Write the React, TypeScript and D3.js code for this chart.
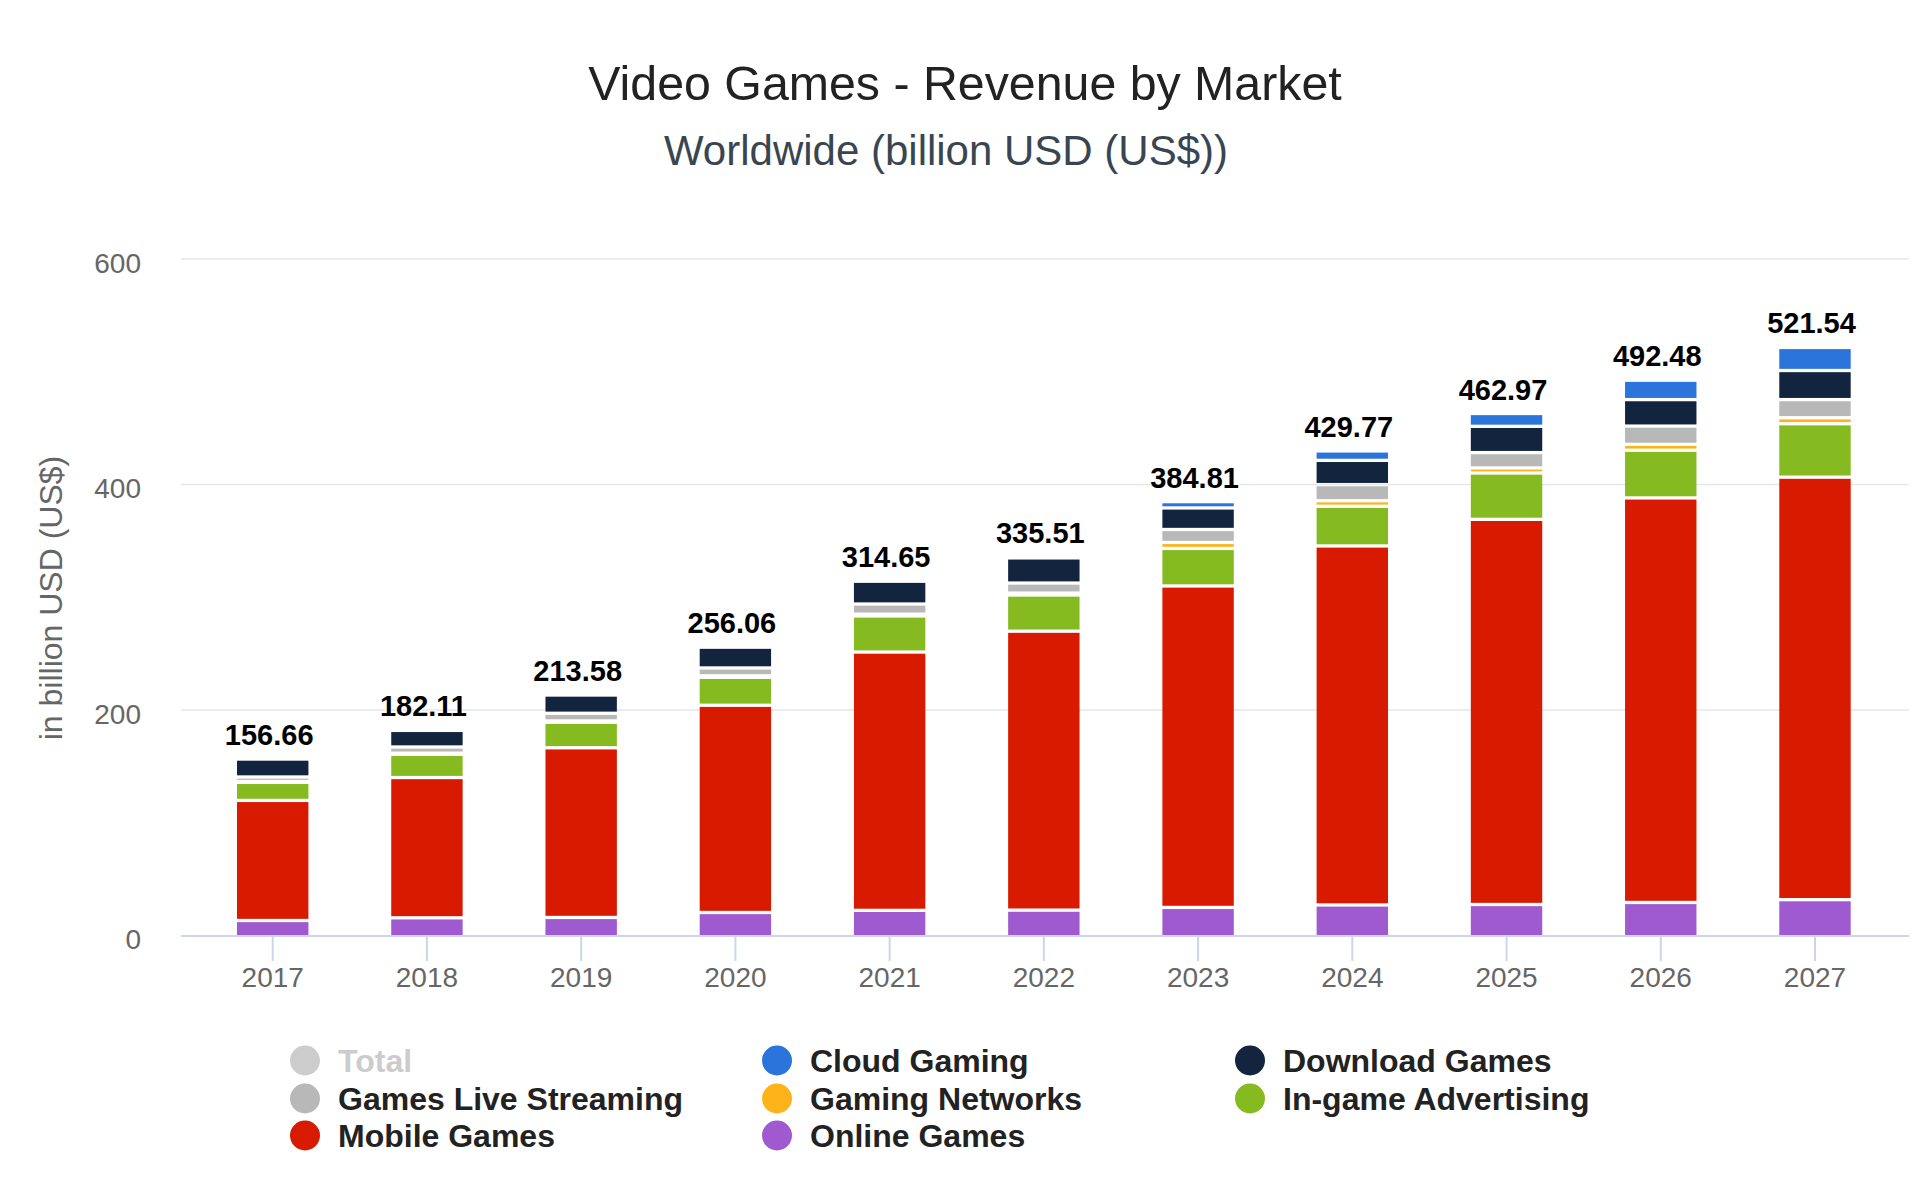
import { useEffect, useRef } from "react";
import * as d3 from "d3";

// values (billion USD)
const years = ["2017", "2018", "2019", "2020", "2021", "2022", "2023", "2024", "2025", "2026", "2027"];
const totals = [156.66, 182.11, 213.58, 256.06, 314.65, 335.51, 384.81, 429.77, 462.97, 492.48, 521.54];
const onlineGames = [13.3, 15.7, 16.0, 20.4, 22.3, 22.5, 24.9, 27.1, 27.5, 29.3, 31.8];
const mobileGames = [106.5, 124.4, 150.5, 183.8, 229.1, 247.4, 285.1, 318.4, 341.6, 358.8, 374.7];
const inGameAdvertising = [16.0, 20.6, 22.6, 24.8, 32.0, 32.1, 33.3, 35.2, 41.1, 42.3, 47.4];
const gamingNetworks = [0.8, 1.0, 1.2, 1.3, 1.6, 1.7, 5.3, 4.9, 4.5, 5.2, 5.3];
const gamesLiveStreaming = [4.0, 5.5, 6.8, 7.0, 9.0, 8.9, 11.5, 14.3, 13.6, 16.2, 16.1];
const downloadGames = [15.9, 14.7, 16.18, 18.4, 20.2, 22.3, 19.1, 21.5, 23.3, 23.5, 25.8];
const cloudGaming = [0.16, 0.21, 0.3, 0.36, 0.45, 0.61, 5.61, 8.37, 11.37, 17.18, 20.44];
const yTicks = [0, 200, 400, 600];

// stacking order, bottom to top
const series = [
    { name: "Online Games", color: "#a05ad0", values: onlineGames },
    { name: "Mobile Games", color: "#d81a00", values: mobileGames },
    { name: "In-game Advertising", color: "#85ba21", values: inGameAdvertising },
    { name: "Gaming Networks", color: "#ffb31a", values: gamingNetworks },
    { name: "Games Live Streaming", color: "#b8b8b8", values: gamesLiveStreaming },
    { name: "Download Games", color: "#13253e", values: downloadGames },
    { name: "Cloud Gaming", color: "#2b74db", values: cloudGaming },
];

// legend is alphabetical, 3 per row
const legendItems = [
    { name: "Total", color: "#cccccc", off: true },
    { name: "Cloud Gaming", color: "#2b74db" },
    { name: "Download Games", color: "#13253e" },
    { name: "Games Live Streaming", color: "#b8b8b8" },
    { name: "Gaming Networks", color: "#ffb31a" },
    { name: "In-game Advertising", color: "#85ba21" },
    { name: "Mobile Games", color: "#d81a00" },
    { name: "Online Games", color: "#a05ad0" },
];

export default function App() {
    const svgRef = useRef<SVGSVGElement>(null);

    useEffect(() => {
        const svg = d3.select(svgRef.current);
        svg.selectAll("*").remove();

        const font = "'Liberation Sans', Arial, Helvetica, sans-serif";
        const gap = 3.3;

        const x = d3.scaleBand()
            .domain(years)
            .range([195.6, 1892.1])
            .paddingInner(0.537)
            .paddingOuter(0.2685);

        const y = d3.scaleLinear()
            .domain([0, 600])
            .range([935.5, 259]);

        // title + subtitle
        svg.append("text")
            .attr("x", 965).attr("y", 100)
            .attr("text-anchor", "middle")
            .attr("font-family", font).attr("font-size", 48.3)
            .attr("fill", "#222")
            .text("Video Games - Revenue by Market");
        svg.append("text")
            .attr("x", 946).attr("y", 165)
            .attr("text-anchor", "middle")
            .attr("font-family", font).attr("font-size", 42)
            .attr("fill", "#3a4552")
            .text("Worldwide (billion USD (US$))");

        // grid lines
        svg.append("g")
            .selectAll("line")
            .data(yTicks.filter(d => d > 0))
            .enter().append("line")
            .attr("x1", 181).attr("x2", 1909)
            .attr("y1", d => y(d)).attr("y2", d => y(d))
            .attr("stroke", "#e6e6e6").attr("stroke-width", 1.5);

        // y labels
        svg.append("g")
            .selectAll("text")
            .data(yTicks)
            .enter().append("text")
            .attr("x", 141).attr("y", d => y(d) + 13.5)
            .attr("text-anchor", "end")
            .attr("font-family", font).attr("font-size", 28)
            .attr("fill", "#666")
            .text(d => d);

        svg.append("text")
            .attr("transform", "translate(51, 598) rotate(-90)")
            .attr("text-anchor", "middle")
            .attr("dominant-baseline", "central")
            .attr("font-family", font).attr("font-size", 32)
            .attr("fill", "#666")
            .text("in billion USD (US$)");

        // stacked bars
        const stackData = years.map((yr, i) => {
            const row: any = { year: yr };
            series.forEach(s => { row[s.name] = s.values[i]; });
            return row;
        });
        const stacked = d3.stack().keys(series.map(s => s.name))(stackData);

        stacked.forEach((layer, li) => {
            svg.append("g")
                .attr("fill", series[li].color)
                .selectAll("rect")
                .data(layer)
                .enter().append("rect")
                .attr("x", d => x(d.data.year))
                .attr("width", x.bandwidth())
                .attr("y", d => y(d[1]) + gap / 2)
                .attr("height", d => {
                    const bottom = d[0] === 0 ? y(0) : y(d[0]) - gap / 2;
                    return Math.max(0, bottom - (y(d[1]) + gap / 2));
                });
        });

        // x axis
        svg.append("line")
            .attr("x1", 181).attr("x2", 1909)
            .attr("y1", 936).attr("y2", 936)
            .attr("stroke", "#ccd6eb").attr("stroke-width", 2);

        const xTicks = svg.append("g")
            .selectAll("g")
            .data(years)
            .enter().append("g")
            .attr("transform", d => `translate(${x(d) + x.bandwidth() / 2}, 0)`);
        xTicks.append("line")
            .attr("y1", 936).attr("y2", 961)
            .attr("stroke", "#ccd6eb").attr("stroke-width", 2);
        xTicks.append("text")
            .attr("y", 987)
            .attr("text-anchor", "middle")
            .attr("font-family", font).attr("font-size", 28)
            .attr("fill", "#666")
            .text(d => d);

        // total labels
        svg.append("g")
            .selectAll("text")
            .data(totals)
            .enter().append("text")
            .attr("x", (d, i) => x(years[i]) + x.bandwidth() / 2 - 3.5)
            .attr("y", d => y(d) - 14)
            .attr("text-anchor", "middle")
            .attr("font-family", font).attr("font-size", 29).attr("font-weight", "bold")
            .attr("fill", "#000")
            .attr("stroke", "#fff").attr("stroke-width", 2).attr("paint-order", "stroke")
            .text(d => d.toFixed(2));

        // legend
        const colX = [305, 777, 1250];
        const rowY = [1060.5, 1098.5, 1135.5];
        const legend = svg.append("g")
            .selectAll("g")
            .data(legendItems)
            .enter().append("g")
            .attr("transform", (d, i) => `translate(${colX[i % 3]}, ${rowY[Math.floor(i / 3)]})`);
        legend.append("circle")
            .attr("r", 15)
            .attr("fill", d => d.color);
        legend.append("text")
            .attr("x", 33).attr("y", 11)
            .attr("font-family", font).attr("font-size", 32).attr("font-weight", "bold")
            .attr("fill", d => d.off ? "#cccccc" : "#222")
            .text(d => d.name);
    }, []);

    return (
        <svg ref={svgRef} width={1920} height={1181}
            style={{ position: "absolute", left: 0, top: 0, background: "#fff" }} />
    );
}
